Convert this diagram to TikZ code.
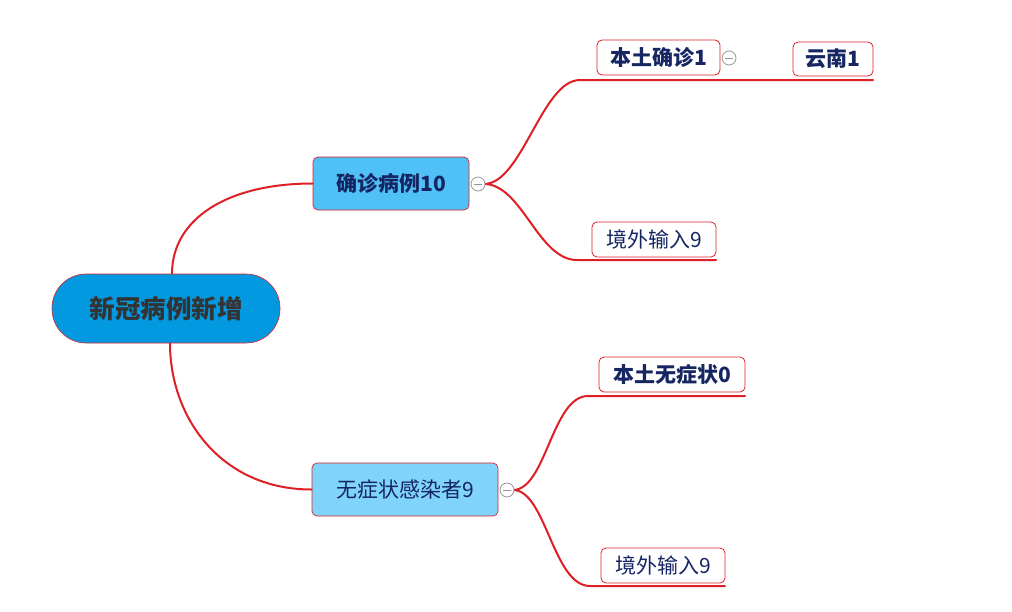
\documentclass[tikz,border=0pt]{standalone}
\usepackage{fontspec}
\setmainfont{Noto Sans CJK SC}
\definecolor{rootfill}{RGB}{3,153,224}
\definecolor{b1fill}{RGB}{79,193,247}
\definecolor{b2fill}{RGB}{128,212,250}
\definecolor{navy}{RGB}{21,38,99}
\definecolor{rootText}{RGB}{51,51,51}
\definecolor{linkred}{RGB}{222,32,38}
\definecolor{knobgray}{RGB}{150,150,150}
\tikzset{
  link/.style={draw=linkred, line width=2pt, line cap=round},
  rootnode/.style={draw=linkred, line width=0.6pt, fill=rootfill, rounded corners=34pt,
    text=rootText, font=\fontsize{25.5}{30}\selectfont\bfseries, inner sep=0pt},
  mainnode/.style={draw=linkred, line width=0.7pt, rounded corners=5pt, text=navy,
    font=\fontsize{21}{25}\selectfont, inner sep=0pt, minimum height=53pt},
  leafnode/.style={draw=linkred, line width=0.8pt, fill=white, rounded corners=5pt, text=navy,
    font=\fontsize{21}{25}\selectfont, inner sep=0pt, minimum height=35pt},
  knob/.style={circle, draw=knobgray, line width=0.8pt, fill=white, minimum size=14pt, inner sep=0pt,
    path picture={\draw[knobgray, line width=0.9pt] ([xshift=-4pt]path picture bounding box.center) -- ([xshift=4pt]path picture bounding box.center);}},
}
\begin{document}
\begin{tikzpicture}[x=1pt,y=-1pt]
\useasboundingbox (0,0) rectangle (1012,611);
% nodes
\node[rootnode, minimum width=228pt, minimum height=69pt] (root) at (166,308.5) {新冠病例新增};
\node[mainnode, fill=b1fill, minimum width=156pt, font=\fontsize{21}{25}\selectfont\bfseries] (b1) at (391,183.5) {确诊病例10};
\node[mainnode, fill=b2fill, minimum width=186pt] (b2) at (405,489.5) {无症状感染者9};
% leaf lines coordinates
\coordinate (u1s) at (580,80);
\coordinate (u1e) at (873,80);
\coordinate (u2s) at (577,260);
\coordinate (u2e) at (716,260);
\coordinate (u3s) at (588,396);
\coordinate (u3e) at (745,396);
\coordinate (u4s) at (590,586);
\coordinate (u4e) at (725,586);
% connectors from root
\draw[link] ([xshift=6pt]root.north) .. controls +(0,-55) and +(-85,0) .. (b1.west);
\draw[link] ([xshift=4pt]root.south) .. controls +(0,75) and +(-90,0) .. (b2.west);
% knobs positions
\coordinate (k1) at (478,184);
\coordinate (k2) at (507,490);
% branch 1 children
\draw[link] ([xshift=6pt]k1) .. controls (522,184) and (542,80) .. (u1s) -- (u1e);
\draw[link] ([xshift=6pt]k1) .. controls (522,184) and (538,260) .. (u2s) -- (u2e);
% branch 2 children
\draw[link] ([xshift=6pt]k2) .. controls (546,490) and (552,396) .. (u3s) -- (u3e);
\draw[link] ([xshift=6pt]k2) .. controls (546,490) and (553,586) .. (u4s) -- (u4e);
% knobs
\node[knob] (kn1) at (k1) {};
\node[knob] (kn2) at (k2) {};
% leaves
\node[leafnode, minimum width=123pt, font=\fontsize{21}{25}\selectfont\bfseries] (l1) at (658.5,57.5) {本土确诊1};
\node[knob] (kn3) at (729,58) {};
\node[leafnode, minimum width=80pt, minimum height=34pt, font=\fontsize{21}{25}\selectfont\bfseries] (l2) at (833,59) {云南1};
\node[leafnode, minimum width=124pt] (l3) at (654,239.5) {境外输入9};
\node[leafnode, minimum width=146pt, font=\fontsize{21}{25}\selectfont\bfseries] (l4) at (672,374.5) {本土无症状0};
\node[leafnode, minimum width=124pt] (l5) at (663,565.5) {境外输入9};
\end{tikzpicture}
\end{document}
